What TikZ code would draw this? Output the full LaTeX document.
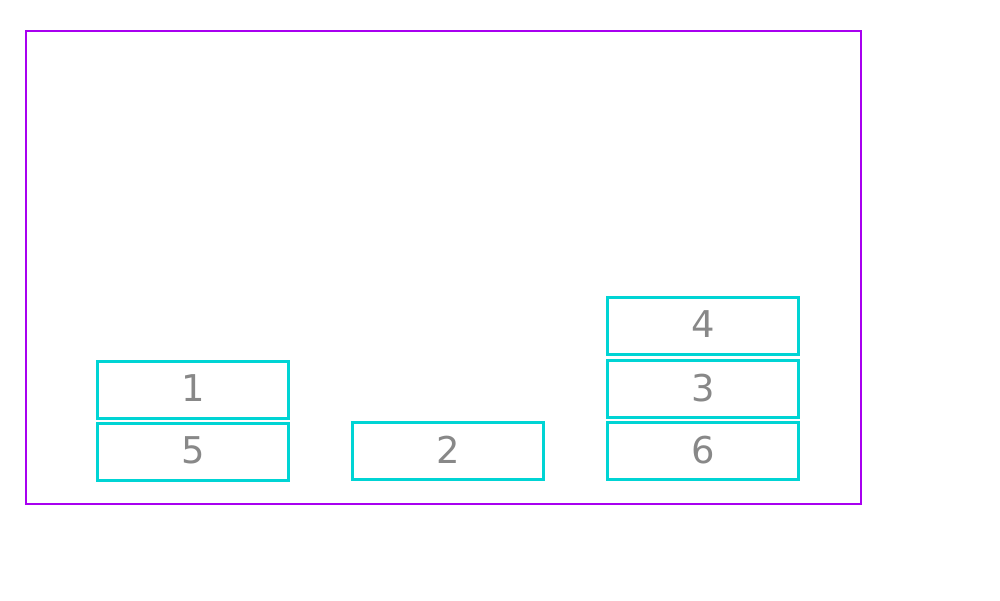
\documentclass[tikz,border=0pt]{standalone}
\usepackage{fontspec}
\setmainfont{DejaVu Sans}
\definecolor{frame}{RGB}{168,0,240}
\definecolor{boxc}{RGB}{0,212,212}
\definecolor{txt}{RGB}{136,136,136}
\begin{document}
\begin{tikzpicture}[x=0.02cm,y=-0.02cm,
  slot/.style={draw=boxc,line width=1.4pt,minimum width=191*0.02cm,minimum height=57*0.02cm,inner sep=0pt,text=txt,font=\fontsize{21}{25}\selectfont,text depth=0.06cm}]
\useasboundingbox (0,0) rectangle (1000,600);
\node[draw=frame,line width=1.6pt,minimum width=835*0.02cm,minimum height=473*0.02cm,inner sep=0pt] (frame) at (443.5,267.5) {};
\node[slot] (n1) at (193,390) {1};
\node[slot] (n5) at (193,452) {5};
\node[slot] (n2) at (448,451) {2};
\node[slot] (n4) at (703,326) {4};
\node[slot] (n3) at (703,389) {3};
\node[slot] (n6) at (703,451) {6};
\end{tikzpicture}
\end{document}
